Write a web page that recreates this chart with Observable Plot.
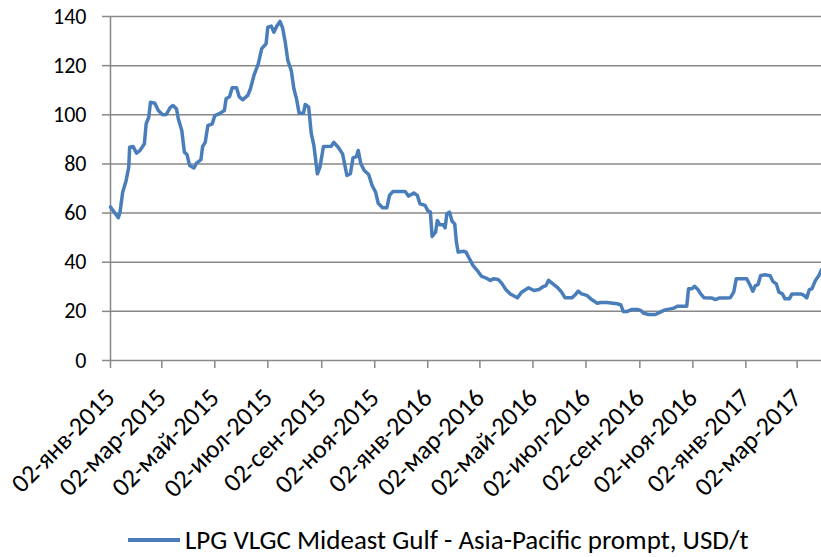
<!DOCTYPE html>
<html>
<head>
<meta charset="utf-8">
<script src="https://cdn.jsdelivr.net/npm/d3@7"></script>
<script src="https://cdn.jsdelivr.net/npm/@observablehq/plot@0.6"></script>
<style>
  body { margin: 0; background: #fff; font-family: Calibri, Carlito, "Open Sans", sans-serif; }
  #chart svg { display: block; }
  #legend { display: flex; align-items: center; padding-left: 128px; margin-top: 22px; font-size: 27px; line-height: 26px; height: 26px; color: #000; white-space: nowrap; }
  #legend .sw { width: 52px; height: 4px; background: #4A7EBB; margin-right: 5px; }
</style>
</head>
<body>
<div id="chart"></div>
<div id="legend"><span class="sw"></span><span id="legendText"></span></div>
<script>
const seriesName = "LPG VLGC Mideast Gulf - Asia-Pacific prompt, USD/t";
const startDate = "2015-01-02";
const endDay = 818;
// days since 02-янв-2015
const days = [0,9,11,14,18,21,22,26,30,34,39,41,44,46,51,55,60,64,69,72,76,78,82,85,88,91,96,99,104,106,109,112,117,120,126,131,133,137,140,145,148,152,158,161,165,170,174,179,181,185,188,191,195,198,201,204,208,211,214,217,222,224,228,231,234,238,241,245,254,257,262,267,272,276,279,283,285,288,292,297,301,305,308,313,318,321,325,339,343,349,353,356,362,365,368,370,374,376,379,383,385,387,390,393,396,398,400,406,409,413,417,422,427,433,437,441,446,450,455,460,468,473,481,487,493,498,501,504,509,514,519,523,531,535,538,542,548,554,560,564,571,578,583,587,590,594,600,606,610,613,619,627,633,638,644,648,652,663,665,669,672,676,679,683,692,696,700,707,713,717,720,732,736,739,742,745,748,753,759,762,766,769,773,776,781,784,794,797,801,804,807,811,815,818];
const values = [62.5,58.1,60.4,68.5,73.3,78.7,86.8,87.1,84.4,85.5,88.2,96.3,99,105.1,104.7,101.7,100,100.1,103.1,103.8,102.4,98.4,93.6,84.8,83.8,79.4,78.4,80.3,81.7,87.1,88.8,95.6,96.3,99.7,100.6,101.7,106.5,107.4,111,111,107.4,106.1,107.9,110.6,116,120.7,126.9,128.9,135.7,136.1,133.6,135.9,138,135.4,129.6,122.1,118,110.6,106.5,100.6,100.6,104.2,103.1,92.3,87.5,76,78.7,87.1,87.2,88.8,86.8,84.1,75.3,76,82.5,83,85.5,80.1,77.3,75.7,71.2,68.5,64,62.2,62.2,67.2,68.8,68.8,66.9,68.2,67.2,63.8,63.1,61,60.4,50.5,52.2,57,55.2,55.2,54,59.7,60.4,56.7,55.6,48.1,44.1,44.5,44.1,41.4,38.7,36.6,34.2,33.4,32.6,33.3,33,31.5,28.8,27.1,25.5,27.8,29.6,28.5,28.9,30.1,30.5,32.6,31.2,29.8,27.8,25.5,25.5,26.9,28.2,27.1,26.5,24.7,23.3,23.6,23.6,23.3,23.1,22.7,19.9,19.9,20.8,20.8,20.4,19.3,18.7,18.7,19.8,20.6,21,21.3,22.1,22.1,29.2,29.2,30.2,28.8,27.1,25.5,25.4,24.8,25.4,25.4,25.5,27.8,33.3,33.3,30.5,28.2,30.5,30.9,34.6,34.9,34.5,32.2,31.2,27.8,27.1,25.1,25.1,27.1,27.1,26.7,25.5,28.8,29.2,32.6,34.6,36.9];
const monthsRu = ["янв","фев","мар","апр","май","июн","июл","авг","сен","окт","ноя","дек"];
const xTickDates = ["2015-01-02","2015-03-02","2015-05-02","2015-07-02","2015-09-02","2015-11-02","2016-01-02","2016-03-02","2016-05-02","2016-07-02","2016-09-02","2016-11-02","2017-01-02","2017-03-02"];
const yTicks = [0,20,40,60,80,100,120,140];

const start = new Date(startDate + "T00:00:00Z");
const end = d3.utcDay.offset(start, endDay);
const data = days.map((d, i) => ({date: d3.utcDay.offset(start, d), value: values[i]}));
const xTicks = xTickDates.map(s => new Date(s + "T00:00:00Z"));
const fmt = d => String(d.getUTCDate()).padStart(2, "0") + "-" + monthsRu[d.getUTCMonth()] + "-" + d.getUTCFullYear();

const gray = "#888888";
const chart = Plot.plot({
  width: 821,
  height: 505,
  marginLeft: 110,
  marginRight: 0,
  marginTop: 16,
  marginBottom: 145,
  style: {fontSize: "22px", fontFamily: "Calibri, Carlito, 'Open Sans', sans-serif", color: "#000", background: "#fff"},
  x: {type: "utc", domain: [start, end]},
  y: {domain: [0, 140]},
  marks: [
    Plot.gridY({ticks: yTicks, stroke: gray, strokeOpacity: 1, strokeWidth: 1.5}),
    Plot.ruleX([start], {stroke: gray, strokeWidth: 1.5}),
    Plot.axisY({ticks: yTicks, tickSize: 8, tickPadding: 16, stroke: gray, strokeWidth: 1.5, fill: "#000", label: null}),
    Plot.axisX({ticks: xTicks, tickFormat: fmt, tickRotate: -45, tickSize: 8, tickPadding: 25, fontSize: 26, stroke: gray, strokeWidth: 1.5, fill: "#000", label: null}),
    Plot.line(data, {x: "date", y: "value", stroke: "#4A7EBB", strokeWidth: 3.5, strokeLinejoin: "round"})
  ]
});
document.getElementById("chart").appendChild(chart);
document.getElementById("legendText").textContent = seriesName;
</script>
</body>
</html>
